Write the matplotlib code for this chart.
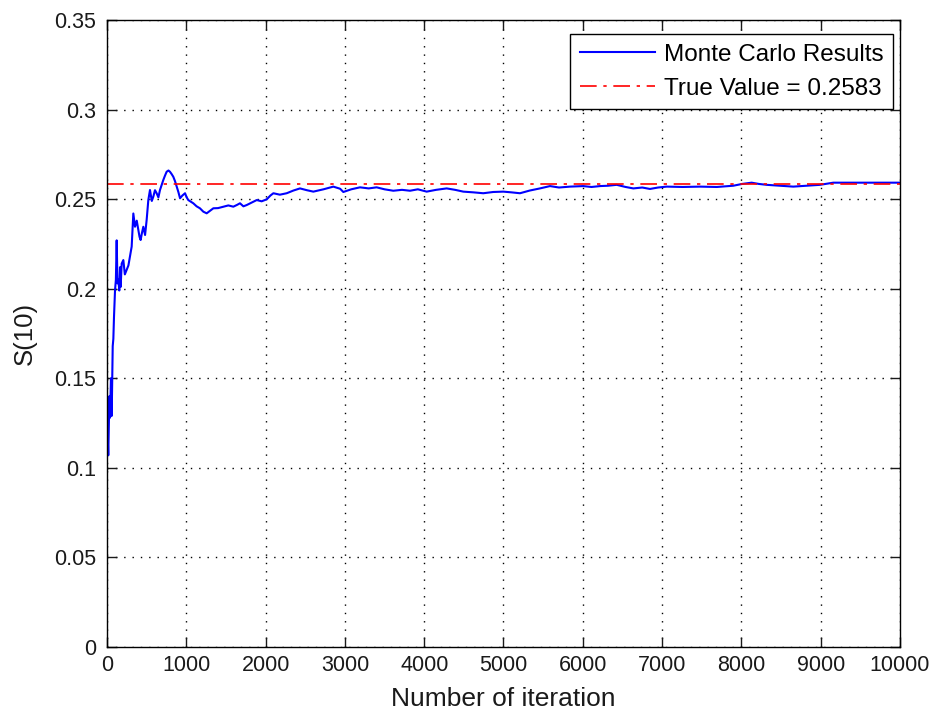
import numpy as np
import matplotlib
matplotlib.use('Agg')
import matplotlib.pyplot as plt

plt.rcParams['font.family'] = ['Liberation Sans', 'DejaVu Sans']

# 读图估计的数据点
iters = [1, 16, 30, 38, 50, 59, 72, 80, 88, 101, 112, 122, 132, 143, 155, 164, 172, 185, 206,
         225, 248, 270, 290, 311, 332, 353, 375, 395, 410, 424, 440, 458, 480, 500, 521, 542,
         565, 584, 605, 626, 648, 668, 690, 710, 730, 752, 775, 794, 815, 836, 858, 879, 900,
         921, 950, 984, 1005, 1025, 1060, 1088, 1130, 1172, 1215, 1257, 1300, 1341, 1400, 1467,
         1530, 1593, 1640, 1677, 1720, 1761, 1820, 1888, 1950, 2014, 2060, 2098, 2180, 2266,
         2350, 2434, 2520, 2602, 2730, 2854, 2940, 2980, 3080, 3190, 3300, 3400, 3500, 3610,
         3720, 3821, 3920, 4031, 4150, 4283, 4390, 4493, 4620, 4745, 4870, 4998, 5100, 5208,
         5330, 5460, 5586, 5700, 5839, 6006, 6110, 6217, 6320, 6427, 6540, 6637, 6750, 6847,
         6950, 7058, 7260, 7478, 7690, 7898, 8010, 8129, 8220, 8318, 8480, 8654, 8820, 8991,
         9159, 9400, 9700, 10000]
s10 = [0.130, 0.107, 0.140, 0.128, 0.150, 0.129, 0.168, 0.172, 0.184, 0.199, 0.205, 0.227,
       0.203, 0.205, 0.199, 0.212, 0.201, 0.214, 0.216, 0.208, 0.2105, 0.213, 0.218, 0.2235,
       0.242, 0.2346, 0.238, 0.2328, 0.229, 0.2272, 0.231, 0.2346, 0.230, 0.2384, 0.2495,
       0.2551, 0.249, 0.2514, 0.255, 0.2533, 0.251, 0.2551, 0.258, 0.2607, 0.263, 0.2653,
       0.266, 0.2653, 0.264, 0.2625, 0.260, 0.257, 0.254, 0.2505, 0.252, 0.2533, 0.251, 0.2495,
       0.2485, 0.2477, 0.246, 0.2449, 0.243, 0.2421, 0.2435, 0.2449, 0.245, 0.2458, 0.2465,
       0.2458, 0.2468, 0.2477, 0.246, 0.2467, 0.248, 0.2495, 0.2488, 0.2499, 0.252, 0.2533,
       0.2525, 0.2533, 0.2548, 0.256, 0.255, 0.2542, 0.2555, 0.257, 0.2558, 0.254, 0.2555,
       0.2566, 0.256, 0.2566, 0.2555, 0.2547, 0.2552, 0.2547, 0.2555, 0.2542, 0.2552, 0.256,
       0.2552, 0.2542, 0.2538, 0.2533, 0.2540, 0.2542, 0.2538, 0.2533, 0.2548, 0.256, 0.2573,
       0.2565, 0.257, 0.2573, 0.2568, 0.2573, 0.2575, 0.258, 0.2568, 0.256, 0.2565, 0.2557,
       0.2565, 0.257, 0.2568, 0.257, 0.2568, 0.2575, 0.2585, 0.2592, 0.2585, 0.258, 0.2575,
       0.257, 0.2575, 0.258, 0.2592, 0.2592, 0.2592, 0.2592]
true_value = 0.2583

fig = plt.figure(figsize=(9.37, 7.15), dpi=100)
ax = fig.add_axes([0.1142, 0.0951, 0.8463, 0.8769])

ax.plot(iters, s10, color='#0000ff', lw=1.5, label='Monte Carlo Results')
ax.axhline(true_value, color='#ff0000', lw=1.2, ls=(0, (10, 4, 2, 4)),
           label='True Value = %.4f' % true_value)

ax.set_xlim(0, 10000)
ax.set_ylim(0, 0.35)
ax.set_xticks(np.arange(0, 10001, 1000))
ax.set_yticks(np.arange(0, 0.351, 0.05))
ax.set_yticklabels(['0', '0.05', '0.1', '0.15', '0.2', '0.25', '0.3', '0.35'])
ax.tick_params(direction='in', top=True, right=True, labelsize=15.5, length=7, width=1,
               colors='#1a1a1a')
ax.tick_params(axis='x', pad=6)
ax.tick_params(axis='y', pad=8)
ax.grid(True, color='black', ls=(0, (1, 5)), lw=1)
for sp in ax.spines.values():
    sp.set_linewidth(1)

ax.set_xlabel('Number of iteration', fontsize=19, labelpad=8, color='#1a1a1a')
ax.set_ylabel('S(10)', fontsize=18.5, labelpad=12, color='#1a1a1a')

leg = ax.legend(loc='upper right', bbox_to_anchor=(0.991, 0.978), borderaxespad=0,
                fontsize=17.5, fancybox=False, framealpha=1, edgecolor='black',
                handlelength=3.1, handletextpad=0.35, labelspacing=0.5, borderpad=0.4)
leg.get_frame().set_linewidth(1)

plt.savefig('out.png', dpi=100)
